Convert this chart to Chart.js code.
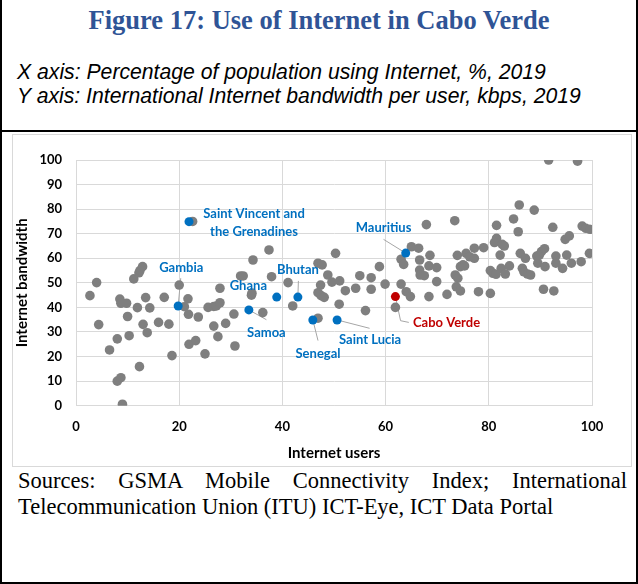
<!DOCTYPE html>
<html>
<head>
<meta charset="utf-8">
<script src="https://cdn.jsdelivr.net/npm/chart.js@4.4.1/dist/chart.umd.min.js"></script>
<style>
  html, body { margin: 0; padding: 0; background: #fff; }
  #page { position: relative; width: 638px; height: 584px; overflow: hidden; }
  .frame { position: absolute; left: 0; top: 0; width: 634px; height: 582px;
    border-left: 2px solid #000; border-right: 2px solid #000; border-bottom: 2px solid #000; }
  .rule { position: absolute; left: 0; top: 130px; width: 638px; height: 2px; background: #000; }
  .title { position: absolute; left: 0; top: 5px; width: 638px; text-align: center;
    font: bold 26.5px/30px "Liberation Serif", "Times New Roman", serif; color: #2f5496; white-space: nowrap; }
  .axes-note { position: absolute; left: 17px; top: 60px;
    font: italic 21.2px/24px "Liberation Sans", Arial, sans-serif; color: #000; white-space: nowrap; }
  .box { position: absolute; left: 12px; top: 134px; width: 618px; height: 331px; border: 1px solid #d9d9d9; }
  #chart { position: absolute; left: 13px; top: 135px; }
  .sources { position: absolute; left: 18px; top: 468px; width: 609px;
    font: 22.5px/26px "Liberation Serif", "Times New Roman", serif; color: #000;
    text-align: justify; text-align-last: left; }
</style>
</head>
<body>
<div id="page">
  <div class="frame"></div>
  <div class="title">Figure 17: Use of Internet in Cabo Verde</div>
  <div class="axes-note">X axis: Percentage of population using Internet, %, 2019<br>Y axis: International Internet bandwidth per user, kbps, 2019</div>
  <div class="rule"></div>
  <div class="box"></div>
  <canvas id="chart" width="618" height="330"></canvas>
  <div class="sources">Sources: GSMA Mobile Connectivity Index; International Telecommunication Union (ITU) ICT-Eye, ICT Data Portal</div>
</div>
<script>
// other countries (grey dots): internet users %, bandwidth kbps
const otherUsers = [
  2.7, 4.0, 4.4, 6.5, 8.0, 8.0, 8.7, 9.0, 8.5, 8.7, 9.8, 10.0, 10.3, 11.2, 11.9, 12.2, 12.4, 12.9, 12.3, 13.0,
  13.5, 13.8, 14.3, 16.0, 17.1, 18.0, 18.6, 20.0, 21.0, 21.7, 21.8, 21.9, 23.2, 22.6, 23.7, 25.0, 25.6, 26.7, 27.2, 27.9,
  26.7, 27.5, 27.9, 29.0, 30.6, 30.8, 31.9, 32.4, 34.0, 34.1, 34.3, 36.2, 37.4, 37.9, 41.1, 42.0, 46.9, 46.9, 47.7, 48.8,
  49.6, 47.4, 46.9, 47.5, 48.1, 50.3, 51.1, 52.2, 54.2, 55.0, 57.2, 58.8, 57.2, 59.9, 51.0, 56.1, 63.0, 64.0, 64.8, 61.9,
  63.0, 63.5, 65.0, 66.4, 67.9, 66.6, 68.6, 68.4, 69.9, 66.6, 66.7, 67.5, 69.9, 68.4, 71.9, 73.4, 73.9, 74.5, 75.0, 73.5,
  74.0, 73.7, 74.5, 75.6, 76.3, 77.2, 77.2, 79.0, 75.3, 78.0, 80.3, 81.5, 81.5, 81.1, 82.6, 83.0, 82.2, 80.3, 80.8, 81.4,
  82.4, 83.2, 84.0, 85.9, 84.8, 85.7, 88.8, 86.1, 87.1, 86.5, 86.8, 87.5, 88.1, 89.5, 89.3, 89.8, 90.2, 90.8, 90.9, 91.6,
  92.4, 90.6, 92.6, 93.0, 93.0, 94.3, 94.8, 95.6, 95.1, 96.0, 97.2, 97.9, 98.1, 98.8, 99.6, 99.5
];
const otherBandwidth = [
  44.8, 50.1, 33.0, 22.7, 27.2, 10.0, 11.4, 0.6, 43.4, 41.7, 41.7, 36.3, 28.5, 51.6, 39.9, 54.1, 55.0, 56.6, 15.9, 33.1,
  44.0, 29.7, 39.8, 33.9, 44.1, 33.2, 20.4, 49.1, 40.3, 43.5, 37.2, 25.0, 26.5, 75.0, 36.1, 21.1, 40.0, 40.4, 40.6, 41.9,
  32.4, 28.1, 47.8, 33.5, 37.3, 24.3, 52.8, 52.8, 45.0, 45.8, 59.3, 37.9, 63.4, 52.5, 50.1, 40.6, 35.6, 58.0, 57.3, 53.2,
  50.3, 49.1, 46.0, 44.8, 44.1, 62.0, 50.8, 46.8, 47.8, 52.9, 52.1, 56.6, 47.4, 49.5, 41.3, 38.7, 49.5, 46.4, 44.4, 40.0,
  59.6, 57.5, 64.7, 64.1, 73.7, 59.3, 61.2, 56.9, 56.2, 55.2, 53.2, 52.9, 50.5, 44.4, 45.3, 75.3, 61.2, 56.6, 57.3, 53.2,
  51.9, 48.4, 46.7, 62.0, 60.6, 60.0, 64.1, 64.3, 56.9, 46.4, 45.7, 73.4, 68.1, 66.4, 65.7, 65.0, 61.3, 55.0, 53.9, 53.5,
  55.9, 53.6, 56.9, 81.7, 76.0, 70.8, 79.6, 62.0, 60.0, 55.9, 54.5, 53.6, 53.2, 58.0, 60.9, 61.3, 62.7, 63.9, 56.6, 100,
  72.6, 47.4, 46.7, 60.9, 58.0, 55.9, 67.7, 69.1, 61.3, 58.0, 99.5, 58.6, 73.1, 72.2, 71.8, 62.0
];

// labelled countries
const namedCountries = ['Saint Vincent and the Grenadines', 'Gambia', 'Ghana', 'Bhutan', 'Samoa', 'Senegal', 'Saint Lucia', 'Mauritius', 'Cabo Verde'];
const namedUsers     = [21.9, 19.8, 38.9, 43.0, 33.5, 45.9, 50.6, 63.9, 61.9];
const namedBandwidth = [74.9, 40.6, 44.2, 44.2, 39.0, 34.9, 34.9, 62.1, 44.4];

const xTicks = [0, 20, 40, 60, 80, 100];
const yTicks = [0, 10, 20, 30, 40, 50, 60, 70, 80, 90, 100];

const BLUE = '#0070c0', RED = '#c00000', GREY = '#7f7f7f';

// where each callout text sits (in axis units) and the bend points of its leader line
const callouts = {
  'Saint Vincent and the Grenadines': { lines: ['Saint Vincent and', 'the Grenadines'], at: [34.5, 78.3], align: 'center', leader: null },
  'Gambia':      { lines: ['Gambia'],      at: [20.4, 56.3], align: 'center', leader: [[20.3, 51.9]] },
  'Ghana':       { lines: ['Ghana'],       at: [33.4, 48.7], align: 'center', leader: null },
  'Bhutan':      { lines: ['Bhutan'],      at: [43.0, 55.5], align: 'center', leader: [[43.1, 50.8]] },
  'Samoa':       { lines: ['Samoa'],       at: [36.9, 29.7], align: 'center', leader: [[36.9, 35.0]] },
  'Senegal':     { lines: ['Senegal'],     at: [46.9, 21.0], align: 'center', leader: [[46.9, 26.5]] },
  'Saint Lucia': { lines: ['Saint Lucia'], at: [57.0, 26.7], align: 'center', leader: [[56.9, 31.5]] },
  'Mauritius':   { lines: ['Mauritius'],   at: [59.6, 72.2], align: 'center', leader: [[59.6, 67.7]] },
  'Cabo Verde':  { lines: ['Cabo Verde'],  at: [65.3, 33.9], align: 'left',   leader: [[64.5, 33.9], [62.9, 34.6]] }
};

const calloutPlugin = {
  id: 'callouts',
  beforeDatasetsDraw(chart) {
    const { ctx, scales: { x, y } } = chart;
    ctx.save();
    ctx.strokeStyle = '#a6a6a6';
    ctx.lineWidth = 1;
    namedCountries.forEach((name, i) => {
      const c = callouts[name];
      if (!c.leader) return;
      ctx.beginPath();
      c.leader.forEach(([lx, ly], k) => {
        const px = x.getPixelForValue(lx), py = y.getPixelForValue(ly);
        k === 0 ? ctx.moveTo(px, py) : ctx.lineTo(px, py);
      });
      ctx.lineTo(x.getPixelForValue(namedUsers[i]), y.getPixelForValue(namedBandwidth[i]));
      ctx.stroke();
    });
    ctx.restore();
  },
  afterDatasetsDraw(chart) {
    const { ctx, scales: { x, y } } = chart;
    ctx.save();
    ctx.font = 'bold 13px Lato, "Open Sans", sans-serif';
    ctx.textBaseline = 'middle';
    namedCountries.forEach(name => {
      const c = callouts[name];
      ctx.fillStyle = name === 'Cabo Verde' ? RED : BLUE;
      ctx.textAlign = c.align;
      const px = x.getPixelForValue(c.at[0]), py = y.getPixelForValue(c.at[1]);
      c.lines.forEach((t, k) => ctx.fillText(t, px, py + k * 18.4));
    });
    ctx.restore();
  }
};

const tickFont = { family: 'Lato, "Open Sans", sans-serif', size: 13, weight: 'bold' };
const titleFont = { family: 'Lato, "Open Sans", sans-serif', size: 15, weight: 'bold' };

new Chart(document.getElementById('chart'), {
  type: 'scatter',
  data: {
    datasets: [
      {
        label: 'Named',
        data: namedUsers.map((v, i) => ({ x: v, y: namedBandwidth[i] })),
        backgroundColor: namedCountries.map(n => n === 'Cabo Verde' ? RED : BLUE),
        borderWidth: 0,
        pointRadius: 4.5,
        order: 0
      },
      {
        label: 'Other countries',
        data: otherUsers.map((v, i) => ({ x: v, y: otherBandwidth[i] })),
        backgroundColor: GREY,
        borderWidth: 0,
        pointRadius: 4.8,
        order: 1
      }
    ]
  },
  options: {
    responsive: false,
    animation: false,
    devicePixelRatio: 1,
    layout: { padding: { top: 25, right: 39, bottom: 0, left: 0 } },
    plugins: { legend: { display: false }, tooltip: { enabled: false } },
    scales: {
      x: {
        type: 'linear', min: 0, max: 100,
        afterBuildTicks: s => { s.ticks = xTicks.map(v => ({ value: v })); },
        afterFit: s => { s.height = 59.3; },
        grid: { color: '#d9d9d9', drawTicks: false },
        border: { color: '#d9d9d9' },
        ticks: { color: '#000', font: tickFont, padding: 13, maxRotation: 0 },
        title: { display: true, text: 'Internet users', color: '#000', font: titleFont, padding: { top: 0, bottom: 3 } }
      },
      y: {
        type: 'linear', min: 0, max: 100,
        afterBuildTicks: s => { s.ticks = yTicks.map(v => ({ value: v })); },
        afterFit: s => { s.width = 63; },
        grid: { color: '#d9d9d9', drawTicks: false },
        border: { color: '#d9d9d9' },
        ticks: { color: '#000', font: tickFont, padding: 14 },
        title: { display: true, text: 'Internet bandwidth', color: '#000', font: titleFont, padding: { top: 0.5, bottom: 0 } }
      }
    }
  },
  plugins: [calloutPlugin]
});
</script>
</body>
</html>
